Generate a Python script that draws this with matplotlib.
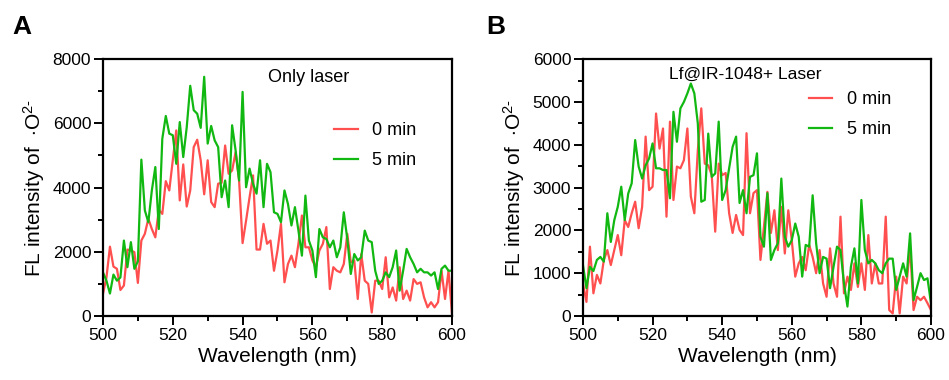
import matplotlib.pyplot as plt
import numpy as np

plt.rcParams['font.family'] = ['Liberation Sans', 'DejaVu Sans']
plt.rcParams['mathtext.fontset'] = 'custom'
plt.rcParams['mathtext.rm'] = 'Liberation Sans'
plt.rcParams['mathtext.it'] = 'Liberation Sans:italic'
plt.rcParams['mathtext.bf'] = 'Liberation Sans:bold'

wavelength = np.arange(500, 601)

# panel A: only laser
a_0min = [690, 1200, 2160, 1540, 1470, 810, 950, 2070, 2040, 1990,
          1030, 2350, 2560, 3030, 2710, 2450, 3310, 3180, 4200, 3910,
          4850, 5780, 3600, 4720, 3410, 3910, 5260, 5490, 4850, 3790,
          4850, 3550, 3390, 4120, 4150, 5310, 4430, 4530, 5100, 4220,
          2270, 2970, 3700, 4380, 2070, 2070, 2870, 2250, 2350, 1410,
          2040, 2870, 1050, 1620, 1880, 1520, 2250, 3130, 2140, 2140,
          1730, 1520, 2040, 2250, 2770, 840, 1520, 1410, 1360, 1620,
          2560, 1670, 1730, 530, 1930, 1100, 1000, 110, 1100, 1100,
          840, 1830, 580, 890, 480, 1520, 530, 790, 480, 1150,
          1000, 1050, 580, 270, 430, 270, 430, 1410, 530, 1410,
          60]
a_5min = [1360, 1100, 700, 1290, 1100, 1200, 2350, 1520, 2300, 1470,
          1700, 4870, 3290, 2920, 3910, 4640, 2710, 5520, 6230, 5680,
          5630, 4740, 6040, 4950, 5880, 7170, 6410, 6300, 5860, 7450,
          5370, 5920, 5470, 5260, 3700, 4220, 3390, 5940, 5160, 4220,
          6980, 4010, 4590, 4120, 3810, 4850, 3390, 4740, 4480, 3230,
          3180, 2920, 3910, 3490, 2820, 3390, 2660, 1880, 3750, 2350,
          2040, 1210, 2710, 2450, 2400, 2140, 2350, 1830, 2140, 3230,
          2400, 1310, 1930, 1730, 1830, 2660, 2350, 2300, 1410, 1000,
          1100, 1360, 1210, 1520, 2040, 790, 1410, 2090, 1830, 1620,
          1360, 1470, 1360, 1360, 1260, 1360, 840, 1470, 1570, 1410,
          1410]

# panel B: Lf@IR-1048 + laser
b_0min = [760, 330, 1620, 530, 960, 760, 1310, 1540, 1190, 1540,
          1890, 1420, 2240, 2080, 2400, 2670, 2050, 2550, 4190, 2940,
          3020, 4730, 3910, 4380, 2320, 4540, 2710, 3490, 3450, 3640,
          4380, 2790, 2400, 3870, 4850, 3560, 3520, 3290, 1970, 3560,
          3290, 3340, 2400, 1940, 2360, 2010, 1890, 4270, 2400, 2870,
          2940, 1310, 2080, 2900, 1940, 2470, 1540, 2550, 1460, 2470,
          1770, 920, 1230, 1380, 1070, 1660, 1380, 1000, 1540, 760,
          450, 1580, 760, 450, 2320, 530, 920, 610, 1230, 680,
          1230, 610, 1890, 760, 1230, 760, 760, 2320, 140, 60,
          920, 60, 920, 760, 1620, 140, 450, 370, 450, 300,
          140]
b_5min = [1190, 650, 1150, 1050, 1310, 1380, 1270, 2400, 1730, 2240,
          2550, 3020, 2240, 2860, 3100, 4110, 3490, 3210, 3520, 3680,
          4030, 3450, 3450, 3410, 3410, 2750, 4770, 4070, 4850, 5000,
          5200, 5430, 5200, 4500, 2670, 2710, 4260, 3250, 3330, 4540,
          2710, 2940, 3450, 3950, 4190, 2640, 2940, 2400, 3250, 3290,
          3800, 1850, 1620, 2870, 1310, 1540, 1700, 3210, 1850, 1620,
          1770, 2160, 1850, 920, 1660, 1620, 2820, 1700, 1000, 1380,
          1340, 650, 1150, 1620, 1540, 760, 220, 1150, 1580, 760,
          2710, 1540, 1230, 1310, 1230, 1070, 1000, 1230, 1340, 1340,
          610, 920, 1230, 920, 1930, 370, 680, 1000, 840, 880,
          300]

red = '#FF4F4F'
green = '#12B812'

fig = plt.figure(figsize=(9.49, 3.8), dpi=100)
ax_a = fig.add_axes([0.1085, 0.1684, 0.3678, 0.676])
ax_b = fig.add_axes([0.6143, 0.1684, 0.3667, 0.676])


def style(ax, ymax, ymajor, yminor):
    ax.set_xlim(500, 600)
    ax.set_ylim(0, ymax)
    ax.set_xticks(np.arange(500, 601, 20))
    ax.set_xticks(np.arange(500, 601, 10), minor=True)
    ax.set_yticks(np.arange(0, ymax + 1, ymajor))
    ax.set_yticks(np.arange(0, ymax + 1, yminor), minor=True)
    for s in ax.spines.values():
        s.set_linewidth(1.6)
    ax.tick_params(which='major', length=6.5, width=1.4, labelsize=12.5, pad=2)
    ax.tick_params(which='minor', length=3.6, width=1.4)
    ax.set_xlabel('Wavelength (nm)', fontsize=15, labelpad=3)
    ax.set_ylabel('FL intensity of  $\\cdot$O$^{2\\text{-}}$', fontsize=15, labelpad=4)


ax_a.plot(wavelength, a_0min, color=red, lw=1.6, label='0 min')
ax_a.plot(wavelength, a_5min, color=green, lw=1.6, label='5 min')
style(ax_a, 8000, 2000, 1000)
ax_a.text(0.473, 0.928, 'Only laser', transform=ax_a.transAxes,
          fontsize=13, va='center', ha='left')
ax_a.legend(frameon=False, loc='upper left', bbox_to_anchor=(0.662, 0.755),
            borderpad=0, borderaxespad=0, fontsize=13, handlelength=1.3,
            handletextpad=0.8, labelspacing=0.72)

ax_b.plot(wavelength, b_0min, color=red, lw=1.6, label='0 min')
ax_b.plot(wavelength, b_5min, color=green, lw=1.6, label='5 min')
style(ax_b, 6000, 1000, 500)
ax_b.text(0.247, 0.94, 'Lf@IR-1048+ Laser', transform=ax_b.transAxes,
          fontsize=12.5, va='center', ha='left')
ax_b.legend(frameon=False, loc='upper left', bbox_to_anchor=(0.649, 0.875),
            borderpad=0, borderaxespad=0, fontsize=13, handlelength=1.3,
            handletextpad=0.8, labelspacing=0.72)

fig.text(21.7 / 949, 1 - 27 / 380, 'A', fontsize=19, fontweight='bold',
         ha='center', va='center')
fig.text(495.5 / 949, 1 - 27 / 380, 'B', fontsize=19, fontweight='bold',
         ha='center', va='center')

fig.savefig('out.png', dpi=100)
